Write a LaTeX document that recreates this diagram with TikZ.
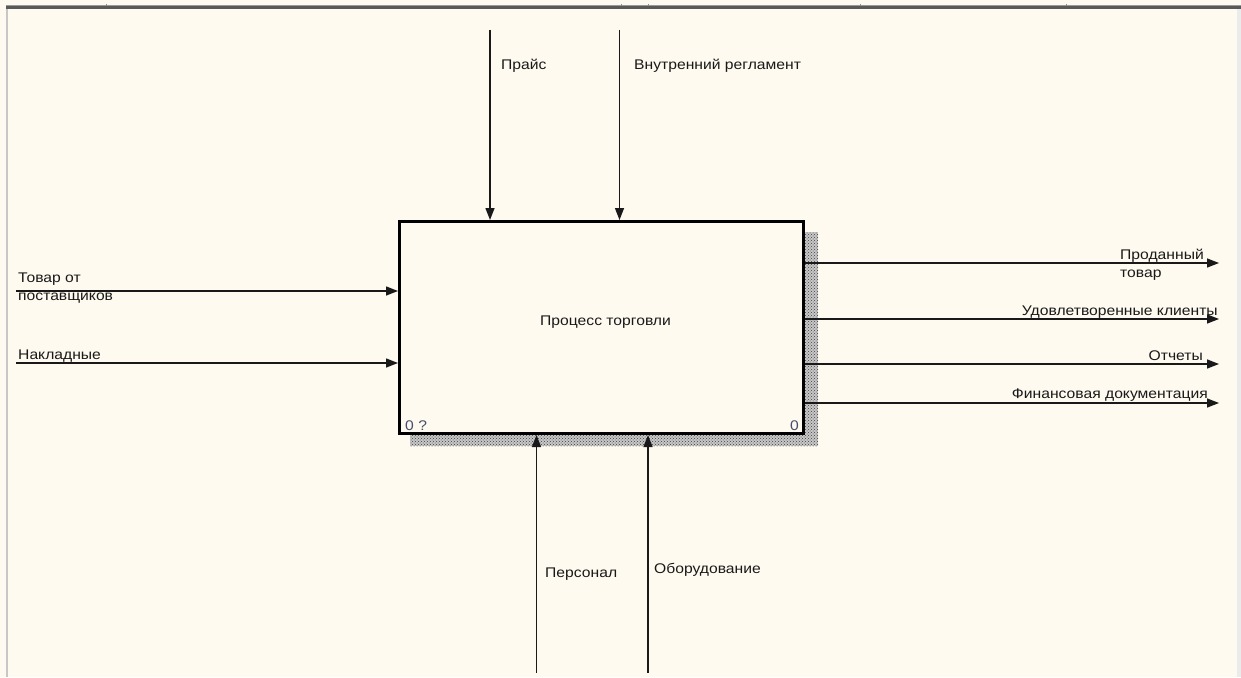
\documentclass[tikz,border=0pt]{standalone}
\usepackage{fontspec}
\setmainfont[FakeStretch=1.12]{Liberation Sans}
\usetikzlibrary{arrows.meta,patterns}
\definecolor{bg}{RGB}{255,250,240}
\definecolor{ink}{RGB}{25,25,25}
\definecolor{numc}{RGB}{70,80,110}
\tikzset{
  lbl/.style={inner sep=0pt, text=ink, font=\fontsize{14}{18}\selectfont, align=left},
  arr/.style={draw=ink, line width=1.4pt, -{Triangle[length=12pt,width=9pt]}},
  procbox/.style={draw=black, line width=3pt, fill=bg, inner sep=0pt, minimum width=404pt, minimum height=212pt}
}
\begin{document}
\begin{tikzpicture}[x=1pt,y=-1pt]
\useasboundingbox (0,0) rectangle (1241,677);
\fill[bg] (0,0) rectangle (1241,677);
% frame of the window
\fill[black!65] (6,6) rectangle (1241,9);
\fill[black!40] (6,5) rectangle (1241,6);
\fill[black!22] (6,9) rectangle (7.5,677);
\fill[black!8] (1237,9) rectangle (1241,677);
\foreach \tx in {106,621,648,860,1066} \draw[black!45, line width=0.8pt] (\tx,4) -- (\tx,6);
% shadow
\fill[black!22] (410,232) rectangle (818,446);
\fill[pattern=crosshatch dots, pattern color=black!75] (410,232) rectangle (818,446);
% box
\node[procbox] (proc) at (601.5,327.5) {};
\node[lbl, anchor=base west] (proctext) at (540,325) {Процесс торговли};
\node[lbl, anchor=base west, text=numc] (numl) at (405,430) {0 ?};
\node[lbl, anchor=base east, text=numc] (numr) at (799,430) {0};
% controls (top)
\coordinate (c1) at (490,30);
\coordinate (c2) at (619.5,30);
\draw[arr] (c1) -- (c1 |- proc.north);
\draw[arr] (c2) -- (c2 |- proc.north);
\node[lbl, anchor=base west] (lc1) at (501,70) {Прайс};
\node[lbl, anchor=base west] (lc2) at (634,70) {Внутренний регламент};
% inputs (left)
\coordinate (i1) at (16,291);
\coordinate (i2) at (16,363);
\draw[arr] (i1) -- (i1 -| proc.west);
\draw[arr] (i2) -- (i2 -| proc.west);
\node[lbl, anchor=base west] (li1) at (18,300) {Товар от\\поставщиков};
\node[lbl, anchor=base west] (li2) at (18,359) {Накладные};
% outputs (right)
\coordinate (o1) at (1219,263);
\coordinate (o2) at (1219,319);
\coordinate (o3) at (1219,364);
\coordinate (o4) at (1219,403);
\draw[arr] (o1 -| proc.east) -- (o1);
\draw[arr] (o2 -| proc.east) -- (o2);
\draw[arr] (o3 -| proc.east) -- (o3);
\draw[arr] (o4 -| proc.east) -- (o4);
\node[lbl, anchor=base west] (lo1) at (1120,277) {Проданный\\товар};
\node[lbl, anchor=base east] (lo2) at (1218,315) {Удовлетворенные клиенты};
\node[lbl, anchor=base east] (lo3) at (1203,360) {Отчеты};
\node[lbl, anchor=base east] (lo4) at (1208,398) {Финансовая документация};
% mechanisms (bottom)
\coordinate (m1) at (536.5,673);
\coordinate (m2) at (648,673);
\draw[arr] (m1) -- (m1 |- proc.south);
\draw[arr] (m2) -- (m2 |- proc.south);
\node[lbl, anchor=base west] (lm1) at (545,577) {Персонал};
\node[lbl, anchor=base west] (lm2) at (654,573) {Оборудование};
\end{tikzpicture}
\end{document}
